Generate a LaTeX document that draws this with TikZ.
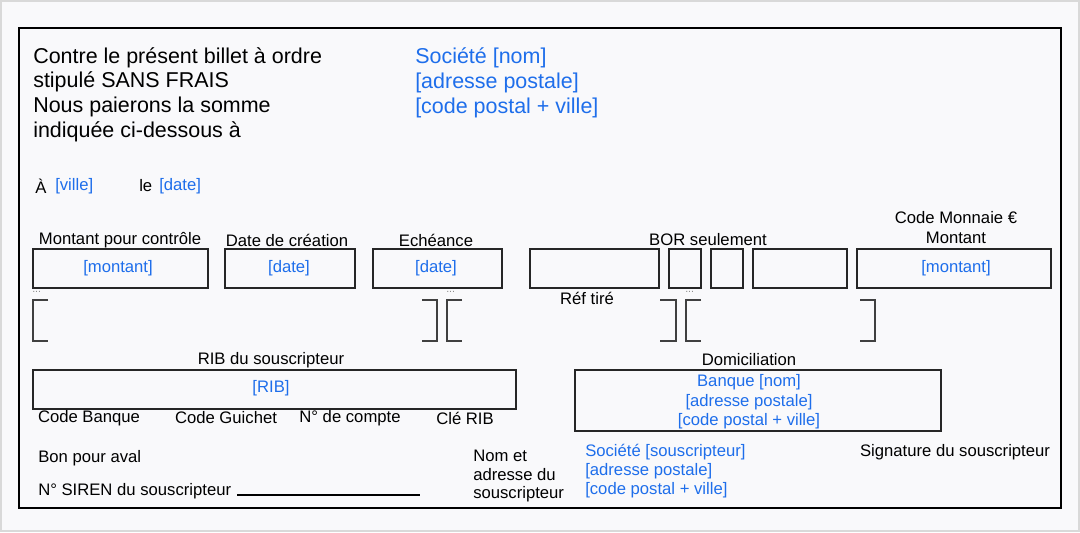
\documentclass[tikz,border=0pt]{standalone}
\usepackage{fontspec}
\setmainfont{Liberation Sans}
\definecolor{bl}{RGB}{30,110,235}
\definecolor{bg}{RGB}{249,249,251}
\begin{document}
\begin{tikzpicture}[x=0.75pt,y=-0.75pt,
  box/.style={draw=black!85,line width=0.9pt},
  br/.style={draw=black!75,line width=1pt},
  big/.style={font=\fontsize{16.1}{18}\selectfont,anchor=west,inner sep=0},
  bigb/.style={big,text=bl},
  sm/.style={font=\fontsize{12.5}{14}\selectfont,inner sep=0},
  smb/.style={sm,text=bl},
  dots/.style={font=\fontsize{8}{8}\selectfont,text=black!45,inner sep=0,anchor=west}]
\useasboundingbox (0,0) rectangle (1080,532);
\fill[bg] (0,0) rectangle (1080,532);
\draw[black!15,line width=1.5pt] (1,1) rectangle (1079,531);
\draw[black,line width=1pt] (19,28) rectangle (1061,508);
% header text
\node[big] (t1) at (33,58) {Contre le présent billet à ordre};
\node[big] (t2) at (33,82) {stipulé SANS FRAIS};
\node[big] (t3) at (33,107) {Nous paierons la somme};
\node[big] (t4) at (33,132) {indiquée ci-dessous à};
\node[bigb] (s1) at (415,58) {Société [nom]};
\node[bigb] (s2) at (415,83) {[adresse postale]};
\node[bigb] (s3) at (415,108) {[code postal + ville]};
\node[sm,anchor=west] (a) at (35,186) {À};
\node[smb,anchor=west] (av) at (55,186) {[ville]};
\node[sm,anchor=west] (le) at (139,186) {le};
\node[smb,anchor=west] (ld) at (159,186) {[date]};
% top boxes
\draw[box] (33,249) rectangle (208,288);
\draw[box] (225,249) rectangle (355,288);
\draw[box] (373,249) rectangle (502,288);
\draw[box] (530,249) rectangle (659,288);
\draw[box] (669,249) rectangle (701,288);
\draw[box] (711,249) rectangle (743,288);
\draw[box] (753,249) rectangle (847,288);
\draw[box] (857,249) rectangle (1051,288);
\node[sm] (l1) at (120,240) {Montant pour contrôle};
\node[sm] (l2) at (287,240) {Date de création};
\node[sm] (l3) at (436,240) {Echéance};
\node[sm] (l4) at (708,240) {BOR seulement};
\node[sm] (l5) at (956,218) {Code Monnaie €};
\node[sm] (l6) at (956,238) {Montant};
\node[smb] (v1) at (118,268) {[montant]};
\node[smb] (v2) at (289,268) {[date]};
\node[smb] (v3) at (436,268) {[date]};
\node[smb] (v4) at (956,268) {[montant]};
\node[sm] (rt) at (587,298) {Réf tiré};
% brackets
\draw[br] (48,300) -- (33,300) -- (33,341) -- (48,341);
\draw[br] (422,300) -- (437,300) -- (437,341) -- (422,341);
\draw[br] (462,300) -- (447,300) -- (447,341) -- (462,341);
\draw[br] (660,300) -- (676,300) -- (676,341) -- (660,341);
\draw[br] (701,300) -- (686,300) -- (686,341) -- (701,341);
\draw[br] (860,300) -- (875,300) -- (875,341) -- (860,341);
\node[dots] (d1) at (32,292) {...};
\node[dots] (d2) at (446,292) {...};
\node[dots] (d3) at (685,292) {...};
% RIB
\draw[box] (33,370) rectangle (516,409);
\node[sm] (rl) at (271,360) {RIB du souscripteur};
\node[smb] (rv) at (271,388) {[RIB]};
\node[sm] (c1) at (89,418) {Code Banque};
\node[sm] (c2) at (226,418) {Code Guichet};
\node[sm] (c3) at (350,418) {N° de compte};
\node[sm] (c4) at (465,418) {Clé RIB};
% Domiciliation
\draw[box] (575,370) rectangle (941,431);
\node[sm] (dl) at (749,360) {Domiciliation};
\node[smb] (b1) at (749,382) {Banque [nom]};
\node[smb] (b2) at (749,402) {[adresse postale]};
\node[smb] (b3) at (749,421) {[code postal + ville]};
% bottom
\node[sm,anchor=west] (bpa) at (38,458) {Bon pour aval};
\node[sm,anchor=west] (sir) at (38,491) {N° SIREN du souscripteur};
\coordinate (sa) at (237,495); \coordinate (sb) at (420,495);
\draw[black,line width=0.8pt] (sa) -- (sb);
\node[sm,anchor=west] (n1) at (473,456) {Nom et};
\node[sm,anchor=west] (n2) at (473,475) {adresse du};
\node[sm,anchor=west] (n3) at (473,494) {souscripteur};
\node[smb,anchor=west] (so1) at (585,452) {Société [souscripteur]};
\node[smb,anchor=west] (so2) at (585,471) {[adresse postale]};
\node[smb,anchor=west] (so3) at (585,490) {[code postal + ville]};
\node[sm] (sig) at (955,452) {Signature du souscripteur};
\end{tikzpicture}
\end{document}
